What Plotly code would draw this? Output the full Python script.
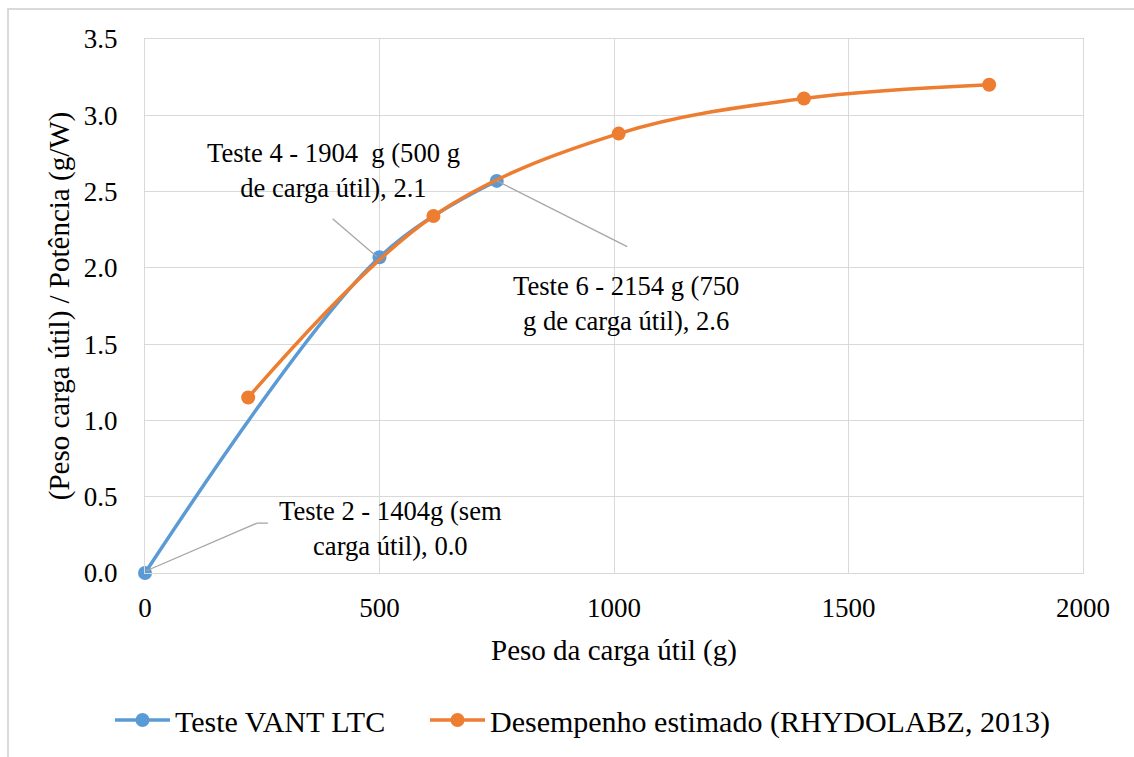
import plotly.graph_objects as go

# Data
teste_x = [0, 500, 750]
teste_y = [0.0, 2.07, 2.57]
estimado_x = [220, 615, 1010, 1405, 1800]
estimado_y = [1.15, 2.34, 2.88, 3.11, 3.20]

x_ticks = [0, 500, 1000, 1500, 2000]
y_ticks = [0.0, 0.5, 1.0, 1.5, 2.0, 2.5, 3.0, 3.5]

BLUE = "#5B9BD5"
ORANGE = "#ED7D31"
GRID = "#D9D9D9"
FONT = "Liberation Serif"

fig = go.Figure()
fig.add_trace(go.Scatter(
    x=teste_x, y=teste_y, name="Teste VANT LTC", legend="legend",
    mode="lines+markers", line=dict(color=BLUE, width=3.5, shape="spline", smoothing=1),
    marker=dict(size=14, color=BLUE), cliponaxis=False))
fig.add_trace(go.Scatter(
    x=estimado_x, y=estimado_y, name="Desempenho estimado (RHYDOLABZ, 2013)", legend="legend2",
    mode="lines+markers", line=dict(color=ORANGE, width=3.5, shape="spline", smoothing=1),
    marker=dict(size=14, color=ORANGE), cliponaxis=False))

W, H = 1134, 757
ml, mr, mt, mb = 145, 51, 39, 183
pw, ph = W - ml - mr, H - mt - mb

def px2paper(px, py):
    return (px - ml) / pw, (H - mb - py) / ph

# outer frame
x0, y0 = px2paper(8, 9)
x1, y1 = px2paper(1140, 770)
shapes = [dict(type="rect", xref="paper", yref="paper", x0=x0, y0=y1, x1=x1, y1=y0,
               line=dict(color="#D9D9D9", width=2), layer="below")]

leader = dict(color="#A6A6A6", width=1.3)
shapes += [
    dict(type="line", xref="x", yref="y", x0=400, y0=2.322, x1=494, y1=2.074, line=leader),
    dict(type="line", xref="x", yref="y", x0=1028, y0=2.139, x1=750, y1=2.571, line=leader),
    dict(type="line", xref="x", yref="y", x0=2, y0=0.013, x1=239, y1=0.327, line=leader),
    dict(type="line", xref="x", yref="y", x0=239, y0=0.327, x1=262, y1=0.327, line=leader),
]

ann_font = dict(family=FONT, size=26.6, color="black")
annotations = [
    dict(x=401, y=2.636, xref="x", yref="y", text="Teste 4 - 1904  g (500 g<br>de carga útil), 2.1",
         showarrow=False, font=ann_font, align="center"),
    dict(x=1026, y=1.768, xref="x", yref="y", text="Teste 6 - 2154 g (750<br>g de carga útil), 2.6",
         showarrow=False, font=ann_font, align="center"),
    dict(x=524, y=0.294, xref="x", yref="y", text="Teste 2 - 1404g (sem<br>carga útil), 0.0",
         showarrow=False, font=ann_font, align="center"),
]

lx1, ly = px2paper(110, 720)
lx2, _ = px2paper(425, 720)
leg_common = dict(orientation="h", yanchor="middle", y=ly, xanchor="left",
                  font=dict(family=FONT, size=30, color="black"), itemwidth=55,
                  bgcolor="rgba(0,0,0,0)")

fig.update_layout(
    width=W, height=H,
    margin=dict(l=ml, r=mr, t=mt, b=mb),
    paper_bgcolor="white", plot_bgcolor="white",
    font=dict(family=FONT, size=27, color="black"),
    shapes=shapes, annotations=annotations,
    legend=dict(x=lx1, **leg_common),
    legend2=dict(x=lx2, **leg_common),
    showlegend=True,
)
fig.update_xaxes(range=[0, 2000], tickvals=x_ticks, ticktext=[str(v) for v in x_ticks],
                 showgrid=True, gridcolor=GRID, gridwidth=1.3, zeroline=False,
                 showline=True, linecolor=GRID, linewidth=1.3, mirror=True,
                 ticks="", ticklabelstandoff=10,
                 title=dict(text="Peso da carga útil (g)", font=dict(family=FONT, size=29), standoff=18),
                 tickfont=dict(family=FONT, size=27))
fig.update_yaxes(range=[0, 3.5], tickvals=y_ticks, ticktext=[f"{v:.1f}" for v in y_ticks],
                 showgrid=True, gridcolor=GRID, gridwidth=1.3, zeroline=False,
                 showline=True, linecolor=GRID, linewidth=1.3, mirror=True,
                 ticks="", ticklabelstandoff=21,
                 title=dict(text="(Peso carga útil) / Potência (g/W)", font=dict(family=FONT, size=29), standoff=5),
                 tickfont=dict(family=FONT, size=27))

fig.write_html("out.html")
